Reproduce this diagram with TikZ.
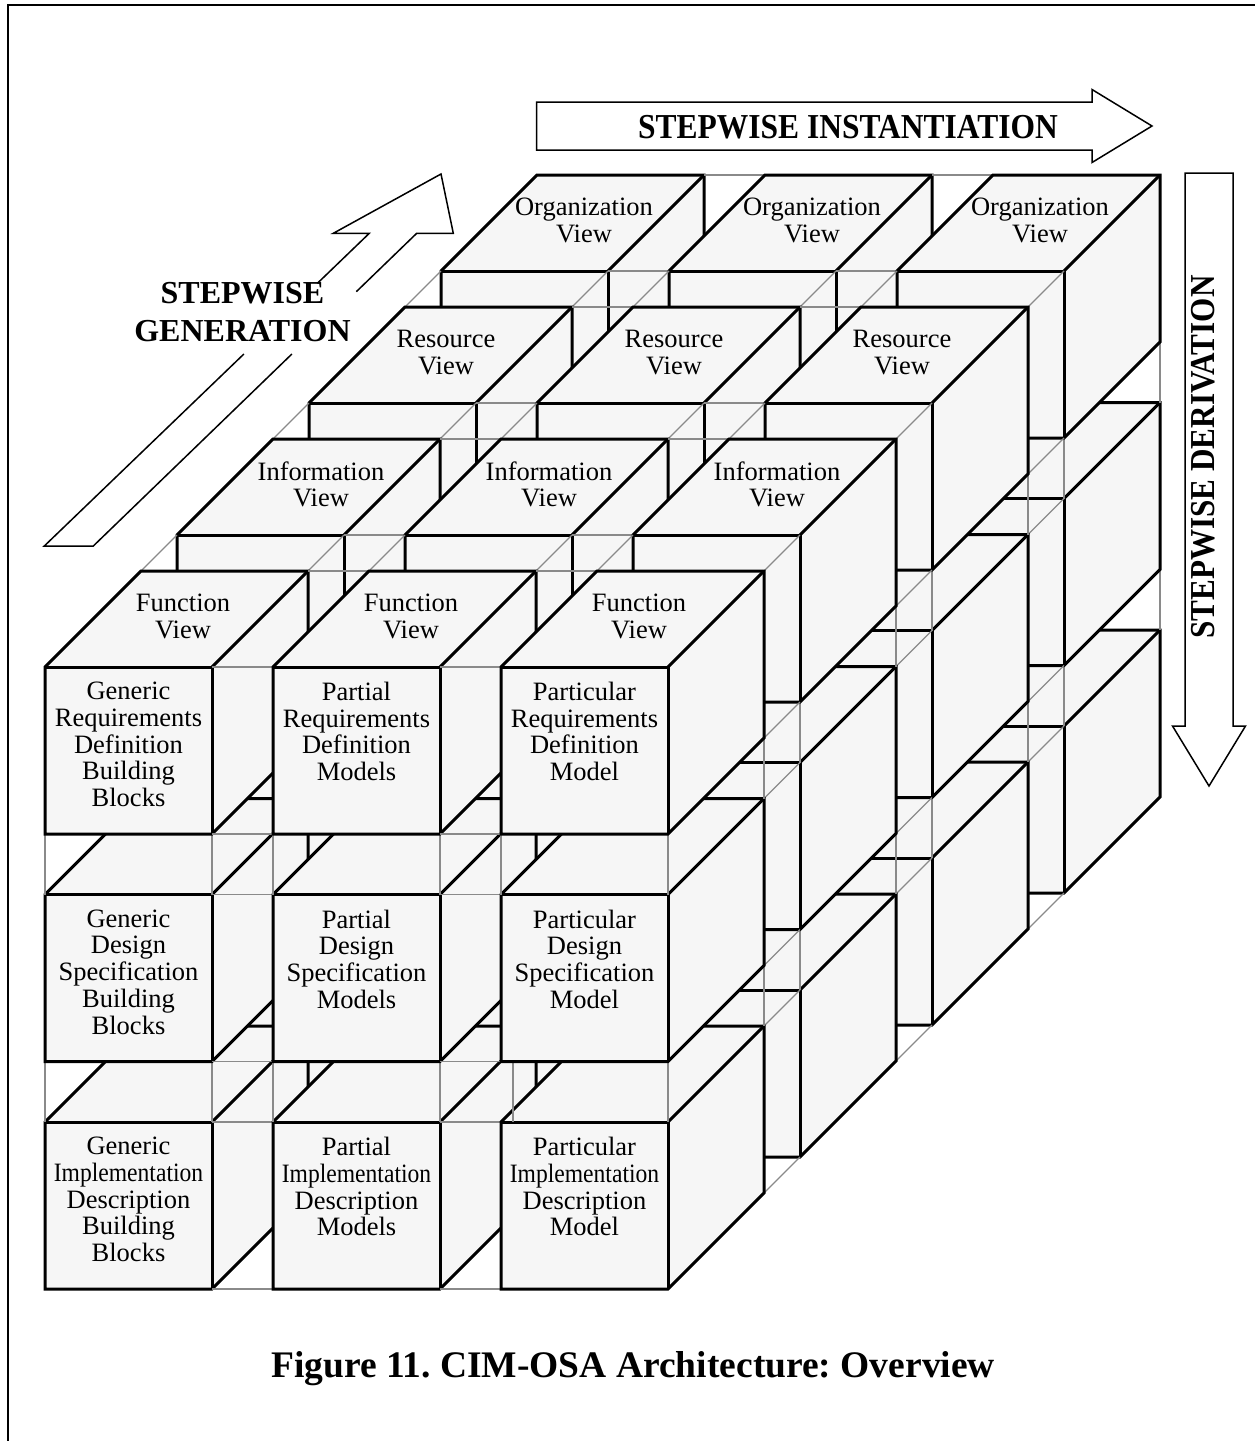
\documentclass[tikz,border=0pt]{standalone}
\usepackage{fontspec}
\setmainfont{Liberation Serif}
\usepackage{graphicx}

\definecolor{facefill}{RGB}{246,246,246}
\definecolor{latticegray}{RGB}{138,138,138}

% texts on the front faces of the front layer (row-column)
\expandafter\def\csname flab-0-0\endcsname{Generic\\Requirements\\Definition\\Building\\Blocks}
\expandafter\def\csname flab-0-1\endcsname{Partial\\Requirements\\Definition\\Models}
\expandafter\def\csname flab-0-2\endcsname{Particular\\Requirements\\Definition\\Model}
\expandafter\def\csname flab-1-0\endcsname{Generic\\Design\\Specification\\Building\\Blocks}
\expandafter\def\csname flab-1-1\endcsname{Partial\\Design\\Specification\\Models}
\expandafter\def\csname flab-1-2\endcsname{Particular\\Design\\Specification\\Model}
\expandafter\def\csname flab-2-0\endcsname{Generic\\\scalebox{0.89}[1]{Implementation}\\Description\\Building\\Blocks}
\expandafter\def\csname flab-2-1\endcsname{Partial\\\scalebox{0.89}[1]{Implementation}\\Description\\Models}
\expandafter\def\csname flab-2-2\endcsname{Particular\\\scalebox{0.89}[1]{Implementation}\\Description\\Model}
% texts on the top faces, one view per layer
\expandafter\def\csname tlab-0\endcsname{Function\\View}
\expandafter\def\csname tlab-1\endcsname{Information\\View}
\expandafter\def\csname tlab-2\endcsname{Resource\\View}
\expandafter\def\csname tlab-3\endcsname{Organization\\View}

\frenchspacing
\begin{document}
\begin{tikzpicture}[x=1pt,y=-1pt,
  face/.style={fill=facefill,draw=black,line width=3pt,line join=miter},
  edge/.style={draw=black,line width=3pt,line cap=butt},
  lattice/.style={draw=latticegray,line width=1.2pt},
  cubetext/.style={align=center,inner sep=0pt,font=\fontsize{26.5pt}{26.7pt}\selectfont},
  frontlabel/.style={cubetext,anchor=north},
  toplabel/.style={cubetext,anchor=center},
  blockarrow/.style={draw=black,fill=white,line width=1.5pt,line join=miter},
  arrowline/.style={draw=black,line width=1.5pt,line join=miter},
  boldlabel/.style={inner sep=0pt,font=\bfseries\fontsize{#1}{#1}\selectfont}
]
\useasboundingbox (0,0) rectangle (1255,1441);
\fill[white] (0,0) rectangle (1255,1441);

% outer frame
\draw[line width=2.5pt] (8,1460) -- (8,5) -- (1270,5);

% cube size, depth, layer shift, column and row pitch
\def\S{167}\def\D{96}\def\L{132}\def\CX{228}\def\RY{227.5}

% painter's order: back layer first, lower rows first, left columns first
\foreach \Ly in {3,2,1,0}{
  % gaps between this layer and the one behind it
  \ifnum\Ly<3
    \foreach \Rw in {0,1,2}{\foreach \Cl in {0,1,2}{
      \pgfmathsetmacro\px{45+\CX*\Cl+\L*\Ly}
      \pgfmathsetmacro\py{667+\RY*\Rw-\L*\Ly}
      \foreach \xo/\yo in {0/0,\S/0,0/\S,\S/\S}{
        \draw[lattice] (\px+\xo+\D,\py+\yo-\D) -- (\px+\xo+\L,\py+\yo-\L);
      }
    }}
  \fi
  \foreach \Rw in {2,1,0}{
    % gaps between this row and the row below
    \ifnum\Rw<2
      \foreach \Cl in {0,1,2}{
        \pgfmathsetmacro\px{45+\CX*\Cl+\L*\Ly}
        \pgfmathsetmacro\py{667+\RY*\Rw-\L*\Ly}
        \pgfmathsetmacro\qx{(\Ly==0 && \Rw==1 && \Cl==2) ? 12 : 0}
        \draw[lattice] (\px+\qx,\py+\S) -- ++(0,60.5);
        \draw[lattice] (\px+\S,\py+\S) -- ++(0,60.5);
        \draw[lattice] (\px+\D,\py+\S-\D) -- ++(0,60.5);
        \draw[lattice] (\px+\S+\D,\py+\S-\D) -- ++(0,60.5);
      }
    \fi
    \foreach \Cl in {0,1,2}{
      \pgfmathsetmacro\px{45+\CX*\Cl+\L*\Ly}
      \pgfmathsetmacro\py{667+\RY*\Rw-\L*\Ly}
      % the cube: outline, then the inner edges
      \filldraw[face] (\px,\py) -- ++(0,\S) -- ++(\S,0) -- ++(\D,-\D) -- ++(0,-\S) -- ++(-\S,0) -- cycle;
      \draw[edge] (\px,\py) -- ++(\S,0) -- ++(0,\S);
      \draw[edge] (\px+\S,\py) -- ++(\D,-\D);
      \ifnum\Rw=0
        \pgfmathsetmacro\tx{{138,144,137,143}[\Ly]}
        \node[toplabel] (top-\Ly-\Cl) at (\px+\tx,\py-50.5) {\csname tlab-\Ly\endcsname};
      \fi
      \ifnum\Ly=0
        \node[frontlabel] (front-\Rw-\Cl) at (\px+83.5,\py+15) {\csname flab-\Rw-\Cl\endcsname};
      \fi
      % gaps towards the next column
      \ifnum\Cl<2
        \draw[lattice] (\px+\S,\py) -- ++(61,0);
        \draw[lattice] (\px+\S,\py+\S) -- ++(61,0);
        \draw[lattice] (\px+\S+\D,\py-\D) -- ++(61,0);
        \draw[lattice] (\px+\S+\D,\py+\S-\D) -- ++(61,0);
      \fi
    }
  }
}

% stepwise instantiation
\draw[blockarrow] (536.6,102) -- (1092,102) -- (1092,89.5) -- (1152,126)
  -- (1092,162.5) -- (1092,150) -- (536.6,150) -- cycle;
\node[boldlabel=35pt] (inst) at (848,127) {\scalebox{0.9}[1]{STEPWISE INSTANTIATION}};

% stepwise derivation
\draw[blockarrow] (1185,173) -- (1233,173) -- (1233,726) -- (1245.5,726)
  -- (1209,786) -- (1172.5,726) -- (1185,726) -- cycle;
\node[boldlabel=35pt,rotate=90] (deriv) at (1203.5,457) {\scalebox{0.89}[1]{STEPWISE DERIVATION}};

% stepwise generation: sheared arrow, its outline broken by the label
\coordinate (g1) at (44.3,546);
\coordinate (g2) at (93.3,546);
\draw[arrowline] (243.9,354) -- (g1) -- (g2) -- (291.9,354);
\draw[arrowline] (317.4,283.3) -- (369.3,233.3) -- (333.3,233.3) -- (441,174)
  -- (453.3,233.3) -- (416.7,233.3) -- (356.3,291.7);
\node[align=center,inner sep=0pt,font=\bfseries\fontsize{32pt}{38.4pt}\selectfont]
  (gen) at (242.5,311.8) {STEPWISE\\GENERATION};

% caption
\node[boldlabel=37.5pt,anchor=base] (caption) at (633,1377)
  {Figure 11. CIM-OSA Architecture: Overview};
\end{tikzpicture}
\end{document}
